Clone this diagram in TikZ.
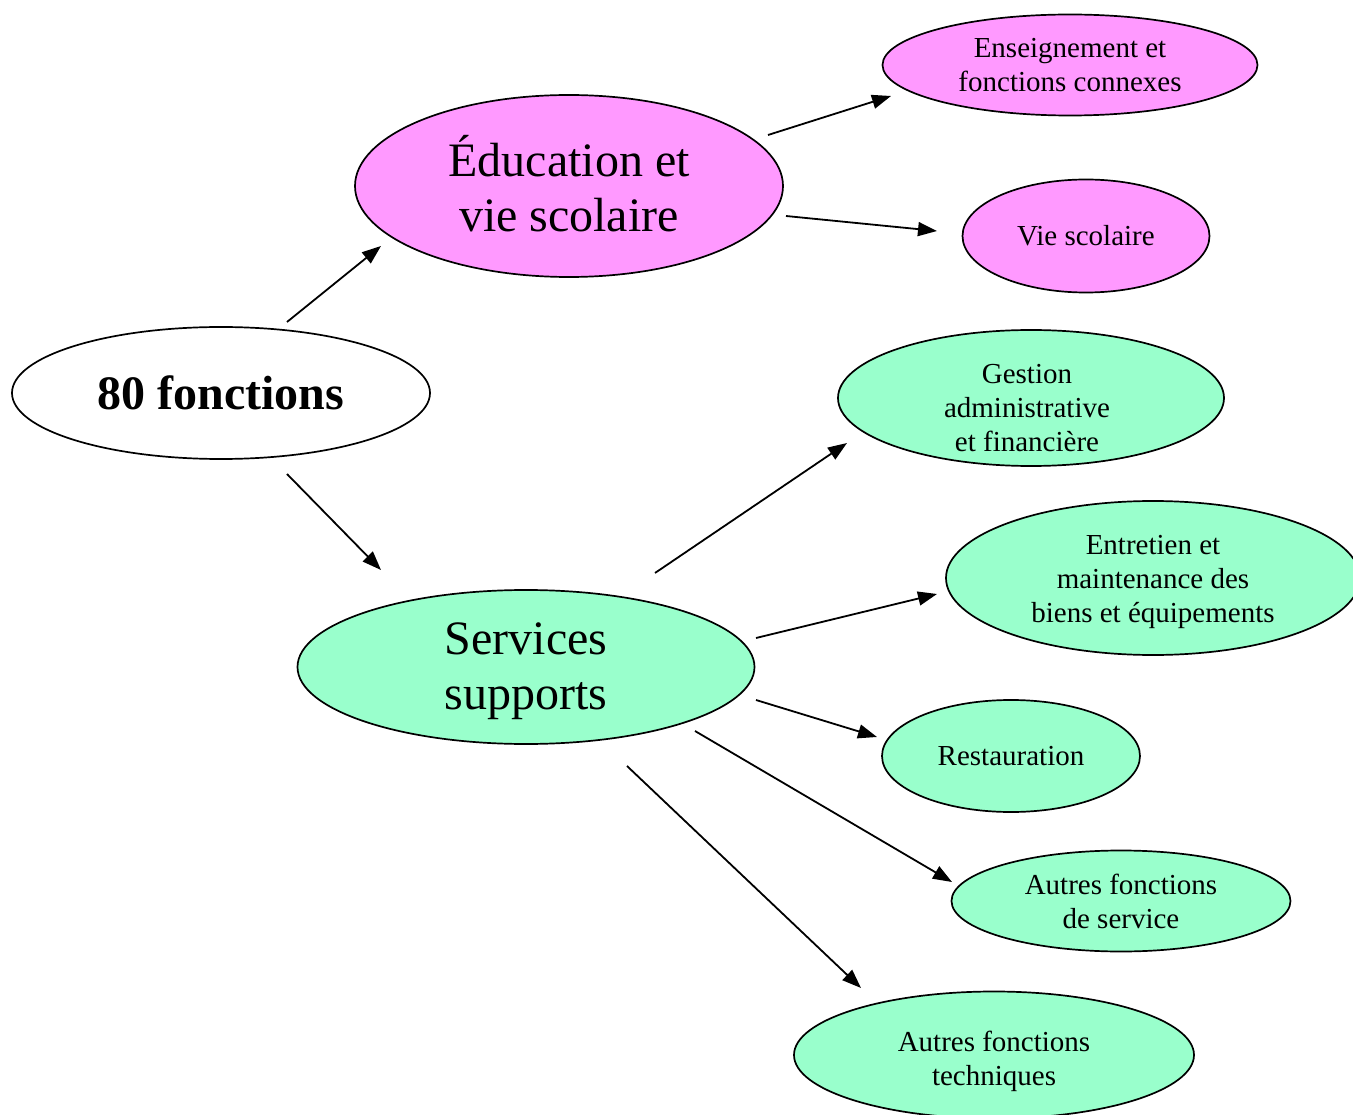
\documentclass[tikz,border=0pt]{standalone}
\usepackage{fontspec}
\setmainfont{Liberation Serif}
\usetikzlibrary{shapes.geometric,arrows.meta}
\definecolor{pinkfill}{HTML}{FF99FF}
\definecolor{greenfill}{HTML}{99FFCC}
\tikzset{
  ell/.style={ellipse,draw=black,line width=1.7pt,inner sep=0pt,align=center},
  big/.style={font=\fontsize{48}{55}\selectfont},
  bigb/.style={font=\fontsize{48}{55}\selectfont\bfseries},
  small/.style={font=\fontsize{29}{34}\selectfont},
  txt/.style={align=center,inner sep=0pt},
  conn/.style={line width=1.8pt,-{Triangle[length=19pt,width=14pt]}}
}
\begin{document}
\begin{tikzpicture}[x=1pt,y=-1pt]
\useasboundingbox (0,0) rectangle (1353,1115);
\clip (0,0) rectangle (1353,1115);
\fill[white] (0,0) rectangle (1353,1115);
% nodes
\node[ell,bigb,fill=white,minimum width=418pt,minimum height=132pt] (root) at (221,393) {80 fonctions};
\node[ell,fill=pinkfill,minimum width=428pt,minimum height=182pt] (edu) at (569,186) {};
\node[txt,big] (edut) at (569,184) {Éducation et\\vie scolaire};
\node[ell,fill=greenfill,minimum width=457pt,minimum height=154pt] (serv) at (526,667) {};
\node[txt,big] (servt) at (526,671) {Services\\supports};
\node[ell,small,fill=pinkfill,minimum width=375pt,minimum height=101pt] (ens) at (1070,65) {Enseignement et\\fonctions connexes};
\node[ell,small,fill=pinkfill,minimum width=247pt,minimum height=113pt] (vie) at (1086,236) {Vie scolaire};
\node[ell,fill=greenfill,minimum width=386pt,minimum height=136pt] (gest) at (1031,398) {};
\node[txt,small] (gestt) at (1027,408) {Gestion\\administrative\\et financière};
\node[ell,fill=greenfill,minimum width=414pt,minimum height=154pt] (entr) at (1153,578) {};
\node[txt,small] (entrt) at (1153,582) {Entretien et\\maintenance des\\biens et équipements};
\node[ell,small,fill=greenfill,minimum width=258pt,minimum height=112pt] (rest) at (1011,756) {Restauration};
\node[ell,small,fill=greenfill,minimum width=339pt,minimum height=101pt] (aserv) at (1121,901) {Autres fonctions\\de service};
\node[ell,fill=greenfill,minimum width=400pt,minimum height=127pt] (tech) at (994,1055) {};
\node[txt,small] (techt) at (994,1061) {Autres fonctions\\techniques};
% connector end points
\coordinate (r1) at (287,322); \coordinate (e1) at (381,246);
\coordinate (r2) at (287,474); \coordinate (s1) at (381,570);
\coordinate (e2) at (768,135); \coordinate (n1) at (891,96);
\coordinate (e3) at (786,216); \coordinate (v1) at (937,231);
\coordinate (s2) at (655,573); \coordinate (g1) at (847,443);
\coordinate (s3) at (756,638); \coordinate (t1) at (937,594);
\coordinate (s4) at (756,700); \coordinate (q1) at (877,737);
\coordinate (s5) at (695,731); \coordinate (a1) at (952,882);
\coordinate (s6) at (627,766); \coordinate (h1) at (861,988);
% connectors
\draw[conn] (r1) -- (e1);
\draw[conn] (r2) -- (s1);
\draw[conn] (e2) -- (n1);
\draw[conn] (e3) -- (v1);
\draw[conn] (s2) -- (g1);
\draw[conn] (s3) -- (t1);
\draw[conn] (s4) -- (q1);
\draw[conn] (s5) -- (a1);
\draw[conn] (s6) -- (h1);
\end{tikzpicture}
\end{document}
